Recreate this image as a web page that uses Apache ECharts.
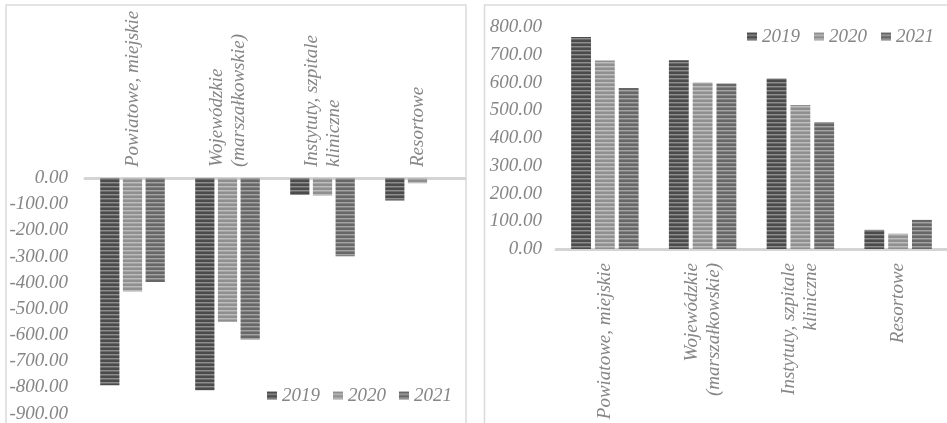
<!DOCTYPE html>
<html>
<head>
<meta charset="utf-8">
<script src="https://cdn.jsdelivr.net/npm/echarts@6/dist/echarts.min.js"></script>
<style>
  html, body { margin: 0; padding: 0; background: #ffffff; }
  #chart { width: 947px; height: 423px; }
</style>
</head>
<body>
<div id="chart"></div>
<script>
// Hospital categories (shared by both panels)
const categories = [
  'Powiatowe, miejskie',
  'Wojewódzkie\n(marszałkowskie)',
  'Instytuty, szpitale\nkliniczne',
  'Resortowe'
];
const years = ['2019', '2020', '2021'];

// Left panel: negative results
const left2019 = [-792, -811, -65, -86];
const left2020 = [-434, -549, -67, -20];
const left2021 = [-397, -617, -299, null];

// Right panel: positive results
const right2019 = [764, 680, 614, 69];
const right2020 = [679, 600, 519, 55];
const right2021 = [580, 596, 458, 105];

// Striped fills for the three years
function stripes(dark, light, mid) {
  const c = document.createElement('canvas');
  c.width = 4; c.height = 4;
  const g = c.getContext('2d');
  const rows = [dark, dark, light, mid];
  rows.forEach((col, i) => { g.fillStyle = col; g.fillRect(0, i, 4, 1); });
  return { image: c, repeat: 'repeat' };
}
const fills = [
  stripes('#4b4b4b', '#8d8d8d', '#6a6a6a'),
  stripes('#8f8f8f', '#bdbdbd', '#a5a5a5'),
  stripes('#676767', '#a2a2a2', '#838383')
];

const fontFamily = '"Liberation Serif", "Times New Roman", serif';
const textGrey = '#868686';
const baseText = { fontFamily, fontStyle: 'italic', fontSize: 19, color: textGrey };

function fmt(v) { return v.toFixed(2); }

const leftData = [left2019, left2020, left2021];
const rightData = [right2019, right2020, right2021];

const series = [];
years.forEach((y, i) => {
  series.push({
    name: y, type: 'bar', xAxisIndex: 0, yAxisIndex: 0,
    data: leftData[i], barCategoryGap: '32%', barGap: '18%',
    itemStyle: { color: fills[i] }
  });
});
years.forEach((y, i) => {
  series.push({
    name: y, type: 'bar', xAxisIndex: 1, yAxisIndex: 1,
    data: rightData[i], barCategoryGap: '31%', barGap: '20%',
    itemStyle: { color: fills[i] }
  });
});

const chart = echarts.init(document.getElementById('chart'), null, { renderer: 'canvas' });
chart.setOption({
  animation: false,
  backgroundColor: '#ffffff',
  graphic: [
    { type: 'rect', shape: { x: 6, y: 5, width: 460, height: 440 }, style: { fill: 'none', stroke: '#dadada', lineWidth: 1.5 }, z: -10 },
    { type: 'rect', shape: { x: 484.5, y: 5, width: 480, height: 440 }, style: { fill: 'none', stroke: '#dadada', lineWidth: 1.5 }, z: -10 }
  ],
  legend: [
    {
      data: years, left: 262, top: 381, itemWidth: 10, itemHeight: 8, itemGap: 13,
      icon: 'rect', textStyle: Object.assign({}, baseText), selectedMode: false
    },
    {
      data: years, left: 742, top: 22, itemWidth: 10, itemHeight: 8, itemGap: 14,
      icon: 'rect', textStyle: Object.assign({}, baseText), selectedMode: false
    }
  ],
  grid: [
    { left: 85, top: 178, width: 380, height: 237 },
    { left: 556, top: 27, width: 393, height: 222 }
  ],
  xAxis: [
    {
      type: 'category', gridIndex: 0, data: categories, position: 'top',
      axisLine: { show: true, lineStyle: { color: '#d4d4d4', width: 3 } },
      axisTick: { show: false },
      axisLabel: Object.assign({ rotate: 90, margin: 11, interval: 0, lineHeight: 22 }, baseText)
    },
    {
      type: 'category', gridIndex: 1, data: categories, position: 'bottom',
      axisLine: { show: true, lineStyle: { color: '#d4d4d4', width: 3 } },
      axisTick: { show: false },
      axisLabel: Object.assign({ rotate: 90, margin: 14, interval: 0, lineHeight: 22 }, baseText)
    }
  ],
  yAxis: [
    {
      type: 'value', gridIndex: 0, min: -900, max: 0, interval: 100,
      axisLine: { show: false }, axisTick: { show: false }, splitLine: { show: false },
      axisLabel: Object.assign({ margin: 17, formatter: fmt }, baseText)
    },
    {
      type: 'value', gridIndex: 1, min: 0, max: 800, interval: 100,
      axisLine: { show: false }, axisTick: { show: false }, splitLine: { show: false },
      axisLabel: Object.assign({ margin: 14, formatter: fmt }, baseText)
    }
  ],
  series
});
</script>
</body>
</html>
